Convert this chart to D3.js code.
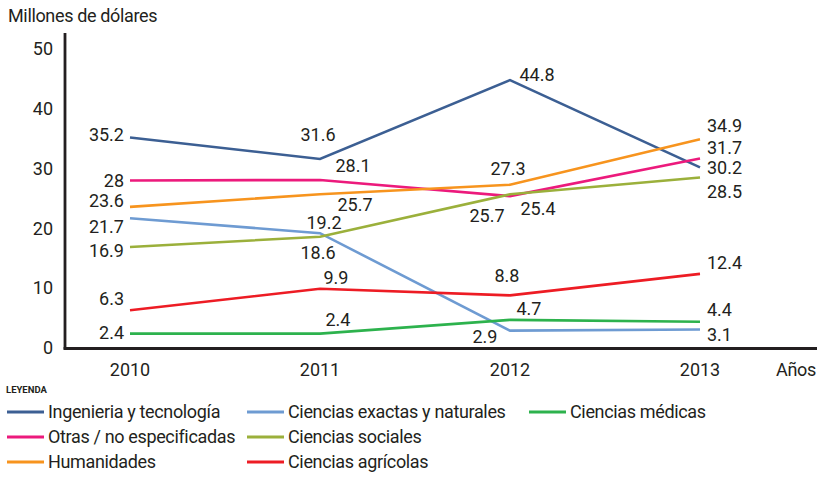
<!DOCTYPE html>
<html>
<head>
<meta charset="utf-8">
<script src="https://cdn.jsdelivr.net/npm/d3@7"></script>
<style>
  body { margin: 0; background: #fff; }
  svg text { font-family: Roboto, "Noto Sans", sans-serif; fill: #231f20; }
  .word { letter-spacing: -0.35px; }
</style>
</head>
<body>
<svg id="chart" width="817" height="477"></svg>
<script>
const years = ["2010", "2011", "2012", "2013"];
const yTicks = [0, 10, 20, 30, 40, 50];

const ingenieria = [35.2, 31.6, 44.8, 30.2];
const exactas = [21.7, 19.2, 2.9, 3.1];
const medicas = [2.4, 2.4, 4.7, 4.4];
const otras = [28, 28.1, 25.4, 31.7];
const sociales = [16.9, 18.6, 25.7, 28.5];
const humanidades = [23.6, 25.7, 27.3, 34.9];
const agricolas = [6.3, 9.9, 8.8, 12.4];

const seriesNames = [
  "Ingenieria y tecnología", "Ciencias exactas y naturales", "Ciencias médicas",
  "Otras / no especificadas", "Ciencias sociales",
  "Humanidades", "Ciencias agrícolas"
];
const seriesValues = [ingenieria, exactas, medicas, otras, sociales, humanidades, agricolas];
const seriesColors = ["#3c5f93", "#6e9bd2", "#2db24d", "#ec1a7c", "#9bb03b", "#f7941e", "#ed1c24"];

// label nudges (px) relative to each point, one [dx, dy] per year
const labelNudge = [
  [[-6, -3], [-2, -25], [27, -6], [7, 0]],
  [[-6, 8], [4, -11], [-25, 6], [7, 5]],
  [[-6, -1], [18, -14], [19, -11], [7, -12]],
  [[-6, 0], [33, -14], [28, 12], [7, -11]],
  [[-6, 4], [-2, 16], [-23, 21], [7, 14]],
  [[-6, -6], [35, 10], [-2, -16], [7, -14]],
  [[-6, -12], [16, -11], [-3, -20], [7, -11]]
];

const svg = d3.select("#chart");
const W = 817;

const x = d3.scalePoint().domain(years).range([130, 700]);
const y = d3.scaleLinear().domain([0, 50]).range([348, 49]);

// axis title
svg.append("text")
  .attr("class", "word")
  .attr("x", 8).attr("y", 22)
  .attr("font-size", 18)
  .text("Millones de dólares");

// y axis
const yAxis = svg.append("g")
  .attr("transform", "translate(65,0)")
  .call(d3.axisLeft(y).tickValues(yTicks).tickSize(0).tickPadding(12));
yAxis.select(".domain").remove();
yAxis.selectAll("text").attr("font-size", 18).attr("font-family", null);

// x labels
svg.append("g").selectAll("text")
  .data(years)
  .enter().append("text")
  .attr("x", d => x(d))
  .attr("y", 376)
  .attr("text-anchor", "middle")
  .attr("font-size", 18)
  .text(d => d);

svg.append("text")
  .attr("class", "word")
  .attr("x", 776).attr("y", 376)
  .attr("font-size", 18)
  .text("Años");

// lines
const line = d3.line()
  .x((d, i) => x(years[i]))
  .y(d => y(d));

seriesValues.forEach((vals, s) => {
  svg.append("path")
    .datum(vals)
    .attr("d", line)
    .attr("fill", "none")
    .attr("stroke", seriesColors[s])
    .attr("stroke-width", 2.6);
});

// axis lines on top
svg.append("line")
  .attr("x1", 65).attr("x2", 65)
  .attr("y1", 33).attr("y2", y(0) + 1.5)
  .attr("stroke", "#231f20").attr("stroke-width", 2.8);
svg.append("line")
  .attr("x1", 63.6).attr("x2", W)
  .attr("y1", y(0) + 0.5).attr("y2", y(0) + 0.5)
  .attr("stroke", "#231f20").attr("stroke-width", 2.8);

// value labels
seriesValues.forEach((vals, s) => {
  svg.append("g").selectAll("text")
    .data(vals)
    .enter().append("text")
    .attr("x", (d, i) => x(years[i]) + labelNudge[s][i][0])
    .attr("y", (d, i) => y(d) + labelNudge[s][i][1])
    .attr("dy", "0.36em")
    .attr("font-size", 18)
    .attr("text-anchor", (d, i) => i === 0 ? "end" : (i === 3 ? "start" : "middle"))
    .text(d => d);
});

// legend
svg.append("text")
  .attr("x", 6).attr("y", 393)
  .attr("font-size", 9.5)
  .attr("font-weight", "bold")
  .text("LEYENDA");

const legendCols = [7, 247, 529];
const legendRows = [412, 437, 462];
const legendPos = [[0, 0], [1, 0], [2, 0], [0, 1], [1, 1], [0, 2], [1, 2]];

const legend = svg.append("g").selectAll("g")
  .data(seriesNames)
  .enter().append("g")
  .attr("transform", (d, i) => `translate(${legendCols[legendPos[i][0]]},${legendRows[legendPos[i][1]]})`);

legend.append("line")
  .attr("x1", 0).attr("x2", 37)
  .attr("stroke", (d, i) => seriesColors[i])
  .attr("stroke-width", 3);

legend.append("text")
  .attr("class", "word")
  .attr("x", 41)
  .attr("dy", "0.36em")
  .attr("font-size", 18)
  .text(d => d);
</script>
</body>
</html>
